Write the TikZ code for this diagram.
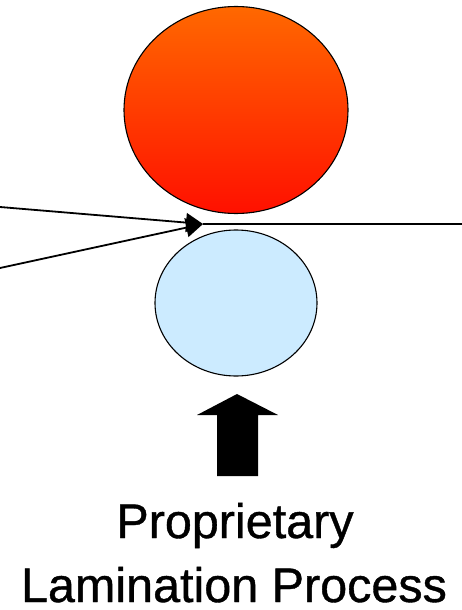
\documentclass[tikz,border=0pt]{standalone}
\usepackage{fontspec}
\setmainfont{Liberation Sans}
\newfontfamily\labelfont[FakeBold=0.8]{Liberation Sans}
\usetikzlibrary{shapes.geometric,arrows.meta}
\definecolor{rolltop}{RGB}{255,104,0}
\definecolor{rollbot}{RGB}{255,16,0}
\definecolor{rollblue}{RGB}{204,235,255}
\tikzset{
  roller/.style={ellipse, draw=black, line width=1.1pt, inner sep=0pt},
  feed/.style={line width=1.8pt, black},
  label/.style={anchor=base, inner sep=0pt, font=\labelfont\fontsize{48.5}{64}\selectfont}
}
\begin{document}
\begin{tikzpicture}[x=1pt,y=-1pt]
\useasboundingbox (0,0) rectangle (462,610);
\node[roller, top color=rolltop, bottom color=rollbot, minimum width=224pt, minimum height=207pt] (top) at (236,110) {};
\node[roller, fill=rollblue, minimum width=162pt, minimum height=146pt] (bot) at (236,303) {};
\coordinate (nip) at (203,224);
\coordinate (in1) at (0,207);
\coordinate (in2) at (0,268);
\coordinate (out) at (462,224);
\draw[feed, -{Triangle[length=17pt,width=19pt]}] (in1) -- (nip);
\draw[feed, -{Triangle[length=17pt,width=19pt]}] (in2) -- (nip);
\draw[feed] (nip) -- (out);
\fill[black] (217,476) -- (217,415) -- (197,415) -- (237,394) -- (278,415) -- (258,415) -- (258,476) -- cycle;
\node[label] (l1) at (235,538) {Proprietary};
\node[label] (l2) at (234,602) {Lamination Process};
\end{tikzpicture}
\end{document}
